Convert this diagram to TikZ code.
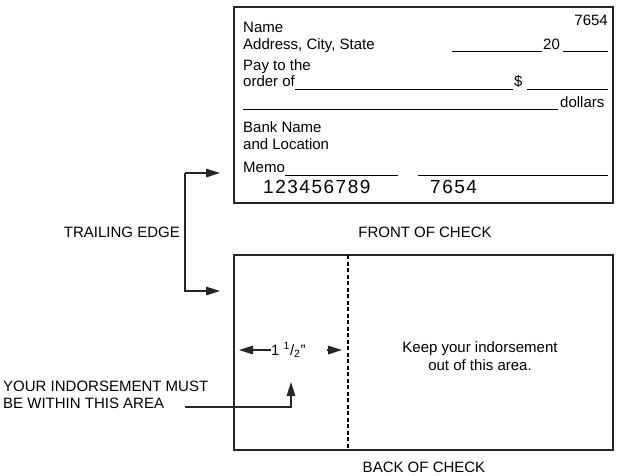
\documentclass[tikz,border=0pt]{standalone}
\usepackage{fontspec}
\setmainfont{Liberation Sans}
\usetikzlibrary{arrows.meta}
\newfontfamily\micr[LetterSpace=8]{Liberation Sans}
\begin{document}
\begin{tikzpicture}[x=1pt,y=-1pt,
  txt/.style={inner sep=0pt,font=\fontsize{15}{17}\selectfont},
  btxt/.style={txt,anchor=base west},
  boxline/.style={line width=1.8pt,draw=black!85},
  rule/.style={line width=0.9pt},
  conn/.style={line width=1.5pt,draw=black!85,-{Triangle[length=14pt,width=8.5pt]}},
  dig/.style={inner sep=0pt,anchor=base west,font=\micr\fontsize{19}{21}\selectfont}]
\useasboundingbox (0,0) rectangle (620,475);
% front of check
\draw[boxline] (234,7) rectangle (613,203);
\node[txt,anchor=base east] (num) at (608,25) {7654};
\node[btxt] (name) at (243,32.5) {Name};
\node[btxt] (addr) at (243,49) {Address, City, State};
\coordinate (d1) at (452,51); \coordinate (d2) at (542,51);
\draw[rule] (d1) -- (d2);
\node[btxt] (twenty) at (543,49) {20};
\coordinate (d3) at (563,51); \coordinate (d4) at (608,51);
\draw[rule] (d3) -- (d4);
\node[btxt] (pay) at (243,70) {Pay to the};
\node[btxt] (order) at (243,86) {order of};
\coordinate (o1) at (295,89); \coordinate (o2) at (513,89);
\draw[rule] (o1) -- (o2);
\node[btxt] (dollar) at (514,86) {\$};
\coordinate (o3) at (527,89); \coordinate (o4) at (608,89);
\draw[rule] (o3) -- (o4);
\coordinate (l1) at (243,109); \coordinate (l2) at (558,109);
\draw[rule] (l1) -- (l2);
\node[btxt] (dollars) at (560,107) {dollars};
\node[btxt] (bank) at (243,132) {Bank Name};
\node[btxt] (loc) at (243,149) {and Location};
\node[btxt] (memo) at (243,172) {Memo};
\coordinate (m1) at (285,175); \coordinate (m2) at (398,175);
\draw[rule] (m1) -- (m2);
\coordinate (m3) at (418,175); \coordinate (m4) at (608,175);
\draw[rule] (m3) -- (m4);
\node[dig] (routing) at (263,193) {123456789};
\node[dig] (chk) at (430,193) {7654};
\node[txt] (front) at (425,232) {FRONT OF CHECK};
% back of check
\draw[boxline] (234,255) rectangle (613,450);
\coordinate (ds1) at (348,255); \coordinate (ds2) at (348,450);
\draw[line width=1.2pt,dash pattern=on 4pt off 2.5pt] (ds1) -- (ds2);
\node[txt] (keep1) at (480,349) {Keep your indorsement};
\node[txt] (keep2) at (480,365) {out of this area.};
\node[txt] (back) at (424,467) {BACK OF CHECK};
% width marker
\node[txt,anchor=west] (width) at (271,350) {1 \textsuperscript{1}/\textsubscript{2}\symbol{34}};
\coordinate (wl) at (239,350);
\draw[conn] (width.west) -- (wl);
\coordinate (wr1) at (327,350); \coordinate (wr2) at (342,350);
\draw[conn] (wr1) -- (wr2);
% trailing edge
\node[txt,anchor=east] (trail) at (180,232) {TRAILING EDGE};
\coordinate (t1) at (220,173); \coordinate (tc1) at (185,173);
\coordinate (tc2) at (185,291); \coordinate (t2) at (220,291);
\draw[conn] (tc1) -- (t1);
\draw[conn] (tc1) -- (tc2) -- (t2);
% indorsement
\node[txt,anchor=west] (ind1) at (3,386) {YOUR INDORSEMENT MUST};
\node[txt,anchor=west] (ind2) at (3,403) {BE WITHIN THIS AREA};
\coordinate (i1) at (185,407); \coordinate (i2) at (291,407); \coordinate (i3) at (291,382);
\draw[conn] (i1) -- (i2) -- (i3);
\end{tikzpicture}
\end{document}
